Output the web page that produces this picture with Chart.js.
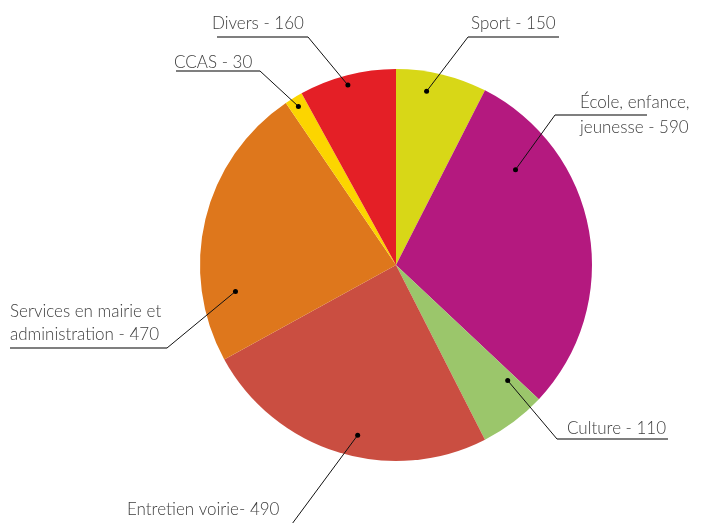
<!DOCTYPE html>
<html>
<head>
<meta charset="utf-8">
<script src="https://cdn.jsdelivr.net/npm/chart.js@4/dist/chart.umd.min.js"></script>
<style>
  html, body { margin: 0; padding: 0; background: #fff; }
  #wrap { width: 703px; height: 523px; position: relative; }
</style>
</head>
<body>
<div id="wrap"><canvas id="chartBudget"></canvas></div>
<script>
// Données
const categories = ['Sport', 'École, enfance, jeunesse', 'Culture', 'Entretien voirie', 'Services en mairie et administration', 'CCAS', 'Divers'];
const montants = [150, 590, 110, 490, 470, 30, 160];
const etiquettes = [['Sport - 150'], ['École, enfance,', 'jeunesse - 590'], ['Culture - 110'], ['Entretien voirie- 490'], ['Services en mairie et', 'administration - 470'], ['CCAS - 30'], ['Divers - 160']];
const couleurs = ['#d8d717', '#b4197f', '#9bc66b', '#ca4e41', '#de771c', '#fcd500', '#e41f26'];

// Placement des étiquettes (f = position dans la part, rf = fraction du rayon)
const placement = [
    { f: 0.37, rf: 0.90, elbow: [468, 37], lineEnd: 559, tx: 471, ty: [29] },
    { f: 0.23, rf: 0.78, elbow: [555, 115], lineEnd: 647, tx: 580, ty: [108, 133] },
    { f: 0.14, rf: 0.82, elbow: [557, 439], lineEnd: 668, tx: 567, ty: [434] },
    { f: 0.45, rf: 0.89, elbow: [289, 528], lineEnd: 120, tx: 127, ty: [515] },
    { f: 0.23, rf: 0.83, elbow: [167, 348], lineEnd: 10, tx: 10, ty: [317, 340] },
    { f: 0.48, rf: 0.95, elbow: [260, 71], lineEnd: 176, tx: 174, ty: [68] },
    { f: 0.48, rf: 0.95, elbow: [308, 37], lineEnd: 217, tx: 212, ty: [29] }
];

const leaderLabels = {
    id: 'leaderLabels',
    afterDatasetsDraw(chart) {
        const ctx = chart.ctx;
        const arcs = chart.getDatasetMeta(0).data;
        ctx.save();
        arcs.forEach((arc, i) => {
            const p = placement[i];
            const a = arc.startAngle + p.f * (arc.endAngle - arc.startAngle);
            const r = p.rf * arc.outerRadius;
            const x = arc.x + Math.cos(a) * r, y = arc.y + Math.sin(a) * r;
            // trait
            ctx.strokeStyle = '#111'; ctx.lineWidth = 1;
            ctx.beginPath(); ctx.moveTo(x, y); ctx.lineTo(p.elbow[0], p.elbow[1]); ctx.stroke();
            ctx.strokeStyle = '#555'; ctx.lineWidth = 1.5;
            ctx.beginPath(); ctx.moveTo(p.elbow[0], p.elbow[1]); ctx.lineTo(p.lineEnd, p.elbow[1]); ctx.stroke();
            // point
            ctx.fillStyle = '#000';
            ctx.beginPath(); ctx.arc(x, y, 2.5, 0, Math.PI * 2); ctx.fill();
            // texte
            ctx.fillStyle = '#3d3d3d';
            ctx.font = '300 17px Lato';
            ctx.textAlign = 'left'; ctx.textBaseline = 'alphabetic';
            etiquettes[i].forEach((t, k) => ctx.fillText(t, p.tx, p.ty[k]));
        });
        ctx.restore();
    }
};

new Chart(document.getElementById('chartBudget'), {
    type: 'pie',
    data: { labels: categories, datasets: [{ data: montants, backgroundColor: couleurs, borderWidth: 0 }] },
    options: {
        responsive: true, maintainAspectRatio: false, animation: false,
        layout: { padding: { top: 69, bottom: 62, left: 200, right: 111 } },
        plugins: { legend: { display: false }, tooltip: { enabled: false } }
    },
    plugins: [leaderLabels]
});
</script>
</body>
</html>
